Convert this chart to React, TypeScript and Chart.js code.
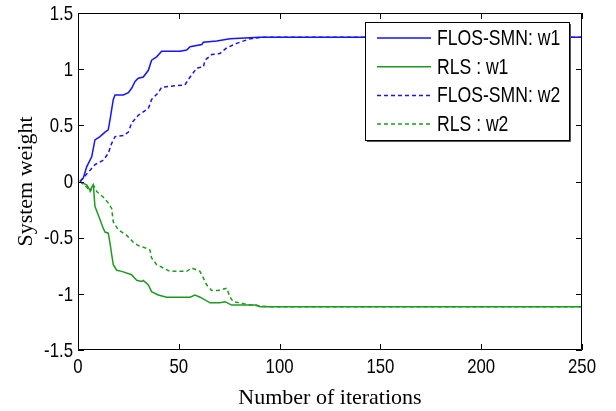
import { useEffect, useRef } from "react";
import { Chart, registerables } from "chart.js";

Chart.register(...registerables);

// ---- data ----
const flosW1Iter = [1, 2.6, 4.3, 6.8, 8.4, 10.9, 13.4, 15, 15.9, 17.5, 18.4, 22.5, 25, 26.6, 28.3, 29.9, 32.4, 34.9, 36.5, 39, 41.5, 50.6, 53.9, 55.6, 61.4, 62.2, 68.8, 75.4, 85.3, 90, 250];
const flosW1 = [0, 0.03, 0.13, 0.22, 0.37, 0.4, 0.44, 0.46, 0.55, 0.73, 0.77, 0.77, 0.79, 0.83, 0.89, 0.92, 0.93, 0.99, 1.08, 1.11, 1.16, 1.16, 1.17, 1.2, 1.22, 1.24, 1.25, 1.27, 1.28, 1.285, 1.285];

const rlsW1Iter = [1, 1.8, 4.3, 6, 6.8, 7.6, 8.4, 10.1, 12.6, 13.4, 15, 15.9, 16.7, 17.5, 19.2, 21.7, 26.6, 29.1, 31.6, 32.4, 34.9, 36.5, 39.8, 44, 55.6, 58, 60.6, 65.5, 70.4, 72.9, 76.2, 88.6, 90.3, 250];
const rlsW1 = [0, -0.01, -0.03, -0.08, -0.05, -0.03, -0.22, -0.3, -0.42, -0.45, -0.46, -0.55, -0.65, -0.74, -0.79, -0.8, -0.83, -0.88, -0.89, -0.88, -0.92, -0.98, -1.01, -1.03, -1.03, -1.01, -1.03, -1.08, -1.08, -1.07, -1.1, -1.1, -1.115, -1.115];

const flosW2Iter = [1, 3, 6, 8.4, 12.6, 15, 16.7, 18.4, 22.5, 25, 26.6, 29.9, 34.9, 36.5, 39.8, 41.5, 53, 55.6, 58.9, 62.2, 63, 66.3, 70.4, 73.8, 78.7, 85.3, 91.9, 95, 250];
const flosW2 = [0, 0.04, 0.1, 0.15, 0.19, 0.25, 0.34, 0.4, 0.41, 0.44, 0.52, 0.59, 0.65, 0.73, 0.79, 0.84, 0.86, 0.93, 1.01, 1.02, 1.08, 1.13, 1.14, 1.19, 1.23, 1.27, 1.285, 1.285, 1.285];

const rlsW2Iter = [1, 4.3, 6, 7.6, 9.3, 12.6, 15, 16.7, 17.5, 20, 24.2, 27.4, 29.9, 33.2, 35.7, 36.5, 39, 42.3, 45.6, 53.9, 56.4, 60.5, 62.2, 63.8, 66.3, 69.6, 73.8, 75.4, 77, 80.4, 85.3, 95, 250];
const rlsW2 = [0, -0.05, -0.09, -0.03, -0.09, -0.14, -0.19, -0.24, -0.36, -0.43, -0.48, -0.54, -0.57, -0.59, -0.61, -0.68, -0.74, -0.77, -0.8, -0.8, -0.77, -0.8, -0.86, -0.92, -0.97, -0.97, -0.95, -1.03, -1.07, -1.08, -1.1, -1.115, -1.115];

const legendLabels = ["FLOS-SMN: w1", "RLS : w1", "FLOS-SMN: w2", "RLS : w2"];
const xTicks = [0, 50, 100, 150, 200, 250];
const yTicks = [-1.5, -1, -0.5, 0, 0.5, 1, 1.5];

const BLUE = "#1414ff";
const GREEN = "#1f9a1f";
const SANS = "'Liberation Sans', Arial, sans-serif";
const SERIF = "'Liberation Serif', 'Times New Roman', serif";
const SQUEEZE = 0.8;

const toPts = (xs: number[], ys: number[]) => xs.map((x, i) => ({ x, y: ys[i] }));

function narrowText(ctx: CanvasRenderingContext2D, text: string, x: number, y: number) {
  ctx.save();
  ctx.translate(x, y);
  ctx.scale(SQUEEZE, 1);
  ctx.fillText(text, 0, 0);
  ctx.restore();
}

const boxPlugin = {
  id: "boxAndTicks",
  afterDatasetsDraw(chart: any) {
    const { ctx, chartArea: a, scales } = chart;
    ctx.save();
    ctx.strokeStyle = "#000";
    ctx.lineWidth = 1;
    ctx.beginPath();
    ctx.rect(a.left + 0.5, a.top + 0.5, a.right - a.left - 1, a.bottom - a.top - 1);
    ctx.stroke();
    const tl = 6;
    ctx.beginPath();
    scales.x.ticks.forEach((t: any) => {
      const px = Math.round(scales.x.getPixelForValue(t.value)) + 0.5;
      ctx.moveTo(px, a.bottom);
      ctx.lineTo(px, a.bottom - tl);
      ctx.moveTo(px, a.top);
      ctx.lineTo(px, a.top + tl);
    });
    scales.y.ticks.forEach((t: any) => {
      const py = Math.round(scales.y.getPixelForValue(t.value)) + 0.5;
      ctx.moveTo(a.left, py);
      ctx.lineTo(a.left + tl, py);
      ctx.moveTo(a.right, py);
      ctx.lineTo(a.right - tl, py);
    });
    ctx.stroke();

    // tick labels (narrow face, like the reference)
    ctx.fillStyle = "#000";
    ctx.font = `21px ${SANS}`;
    ctx.textBaseline = "middle";
    ctx.textAlign = "center";
    scales.x.ticks.forEach((t: any) => {
      narrowText(ctx, String(t.value), scales.x.getPixelForValue(t.value), a.bottom + 17);
    });
    ctx.textAlign = "right";
    scales.y.ticks.forEach((t: any) => {
      narrowText(ctx, String(t.value), a.left - 5, scales.y.getPixelForValue(t.value) + 1);
    });

    // legend
    const bx = 365, by = 22, bw = 204, bh = 118;
    ctx.fillStyle = "#fff";
    ctx.fillRect(bx, by, bw, bh);
    ctx.strokeStyle = "#000";
    ctx.strokeRect(bx + 0.5, by + 0.5, bw, bh);
    ctx.strokeStyle = "#555";
    ctx.beginPath();
    ctx.moveTo(bx + 2, by + bh + 1.5);
    ctx.lineTo(bx + bw + 1.5, by + bh + 1.5);
    ctx.lineTo(bx + bw + 1.5, by + 2);
    ctx.stroke();
    const colors = [BLUE, GREEN, BLUE, GREEN];
    const dashed = [false, false, true, true];
    ctx.font = `22px ${SANS}`;
    ctx.textBaseline = "middle";
    ctx.textAlign = "left";
    legendLabels.forEach((lab, i) => {
      const y = 38 + i * 28.7;
      ctx.strokeStyle = colors[i];
      ctx.lineWidth = 1.5;
      ctx.setLineDash(dashed[i] ? [4, 3] : []);
      ctx.beginPath();
      ctx.moveTo(377, y);
      ctx.lineTo(431, y);
      ctx.stroke();
      ctx.setLineDash([]);
      ctx.fillStyle = "#000";
      narrowText(ctx, lab, 437, y + 1);
    });
    ctx.restore();
  },
};

export default function App() {
  const ref = useRef<HTMLCanvasElement>(null);
  useEffect(() => {
    document.body.style.margin = "0";
    const chart = new Chart(ref.current!, {
      type: "line",
      data: {
        datasets: [
          { label: legendLabels[0], data: toPts(flosW1Iter, flosW1), borderColor: BLUE, borderWidth: 1.5, pointRadius: 0, tension: 0 },
          { label: legendLabels[1], data: toPts(rlsW1Iter, rlsW1), borderColor: GREEN, borderWidth: 1.5, pointRadius: 0, tension: 0 },
          { label: legendLabels[2], data: toPts(flosW2Iter, flosW2), borderColor: BLUE, borderWidth: 1.5, borderDash: [4, 3], pointRadius: 0, tension: 0 },
          { label: legendLabels[3], data: toPts(rlsW2Iter, rlsW2), borderColor: GREEN, borderWidth: 1.5, borderDash: [4, 3], pointRadius: 0, tension: 0 },
        ],
      },
      options: {
        responsive: false,
        animation: false,
        layout: { padding: { top: 13, right: 34, left: 0, bottom: 0 } },
        plugins: { legend: { display: false }, tooltip: { enabled: false } },
        scales: {
          x: {
            type: "linear",
            min: 0,
            max: 250,
            afterBuildTicks: (s: any) => { s.ticks = xTicks.map((v) => ({ value: v })); },
            afterFit: (s: any) => { s.height = 61; },
            grid: { display: false, drawTicks: false },
            border: { display: false },
            ticks: { display: false },
            title: { display: true, text: "Number of iterations", color: "#000", font: { family: SERIF, size: 22 }, padding: 0 },
          },
          y: {
            type: "linear",
            min: -1.5,
            max: 1.5,
            afterBuildTicks: (s: any) => { s.ticks = yTicks.map((v) => ({ value: v })); },
            afterFit: (s: any) => { s.width = 78; },
            grid: { display: false, drawTicks: false },
            border: { display: false },
            ticks: { display: false },
            title: { display: true, text: "System weight", color: "#000", font: { family: SERIF, size: 22 }, padding: { top: 13, bottom: 0 } },
          },
        },
      },
      plugins: [boxPlugin],
    } as any);
    return () => chart.destroy();
  }, []);
  return (
    <div style={{ width: 616, height: 411, background: "#fff" }}>
      <canvas ref={ref} width={616} height={411} />
    </div>
  );
}
